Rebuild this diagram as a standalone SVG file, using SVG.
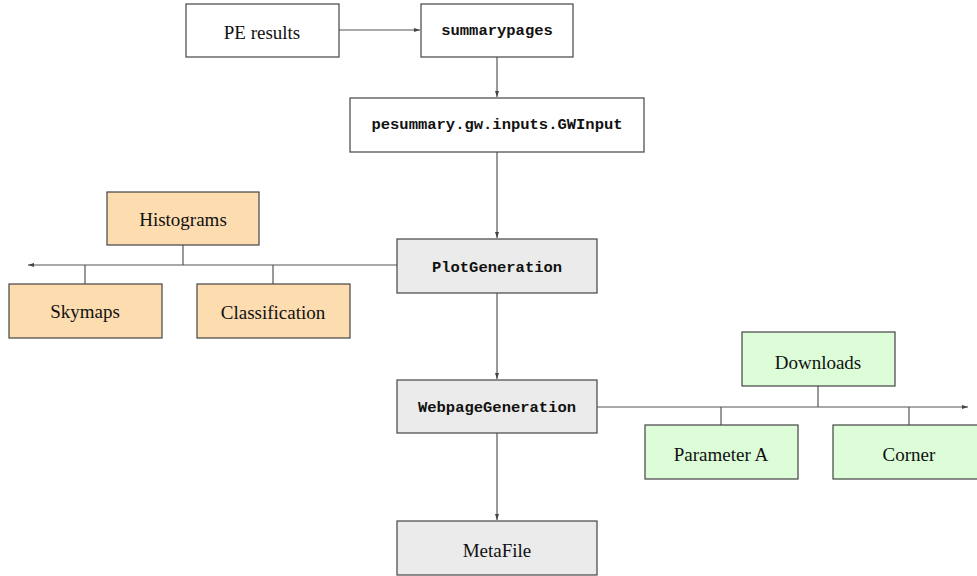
<svg xmlns="http://www.w3.org/2000/svg" width="977" height="576" viewBox="0 0 977 576">
<style>
.b{stroke:#444;stroke-width:1.2}
.w{fill:#fff}.g{fill:#ebebeb}.o{fill:#fddcb0}.n{fill:#dcfdd8}
.t{font-family:"Liberation Serif",serif;font-size:19px;fill:#111;text-anchor:middle;dominant-baseline:central}
.m{font-family:"Liberation Mono",monospace;font-size:15.5px;fill:#111;text-anchor:middle;dominant-baseline:central;font-weight:bold}
.c{stroke:#555;stroke-width:1.2;fill:none}
</style>
<defs>
<marker id="a" markerWidth="6" markerHeight="6" refX="6" refY="3" orient="auto" markerUnits="userSpaceOnUse">
<path d="M0,1 L6,3 L0,5 z" fill="#444"/>
</marker>
</defs>
<rect width="977" height="576" fill="#fff"/>
<g id="connectors">
<line class="c" x1="339" y1="30" x2="420" y2="30" marker-end="url(#a)"/>
<line class="c" x1="497" y1="57" x2="497" y2="97" marker-end="url(#a)"/>
<line class="c" x1="497" y1="152" x2="497" y2="238" marker-end="url(#a)"/>
<line class="c" x1="497" y1="293" x2="497" y2="379" marker-end="url(#a)"/>
<line class="c" x1="497" y1="433" x2="497" y2="520" marker-end="url(#a)"/>
<line class="c" x1="397" y1="265" x2="28" y2="265" marker-end="url(#a)"/>
<line class="c" x1="183" y1="245" x2="183" y2="265"/>
<line class="c" x1="85" y1="265" x2="85" y2="284"/>
<line class="c" x1="273" y1="265" x2="273" y2="284"/>
<line class="c" x1="597" y1="407" x2="968" y2="407" marker-end="url(#a)"/>
<line class="c" x1="818" y1="386" x2="818" y2="407"/>
<line class="c" x1="721" y1="407" x2="721" y2="425"/>
<line class="c" x1="909" y1="407" x2="909" y2="425"/>
</g>
<g id="pe_results"><rect class="b w" x="186" y="4" width="153" height="53"/><text class="t" x="262" y="32">PE results</text></g>
<g id="summarypages"><rect class="b w" x="421" y="4" width="152" height="53"/><text class="m" x="497" y="31">summarypages</text></g>
<g id="gwinput"><rect class="b w" x="350" y="98" width="294" height="54"/><text class="m" x="497" y="125">pesummary.gw.inputs.GWInput</text></g>
<g id="plotgeneration"><rect class="b g" x="397" y="239" width="200" height="54"/><text class="m" x="497" y="268">PlotGeneration</text></g>
<g id="histograms"><rect class="b o" x="107" y="192" width="152" height="53"/><text class="t" x="183" y="219">Histograms</text></g>
<g id="skymaps"><rect class="b o" x="9" y="284" width="153" height="54"/><text class="t" x="85" y="311">Skymaps</text></g>
<g id="classification"><rect class="b o" x="197" y="284" width="153" height="54"/><text class="t" x="273" y="312">Classification</text></g>
<g id="webpagegeneration"><rect class="b g" x="397" y="380" width="200" height="53"/><text class="m" x="497" y="408">WebpageGeneration</text></g>
<g id="downloads"><rect class="b n" x="742" y="332" width="153" height="54"/><text class="t" x="818" y="362">Downloads</text></g>
<g id="parameter_a"><rect class="b n" x="645" y="425" width="153" height="54"/><text class="t" x="721" y="454">Parameter A</text></g>
<g id="corner"><rect class="b n" x="833" y="425" width="153" height="54"/><text class="t" x="909" y="454">Corner</text></g>
<g id="metafile"><rect class="b g" x="397" y="521" width="200" height="54"/><text class="t" x="497" y="550">MetaFile</text></g>
</svg>
